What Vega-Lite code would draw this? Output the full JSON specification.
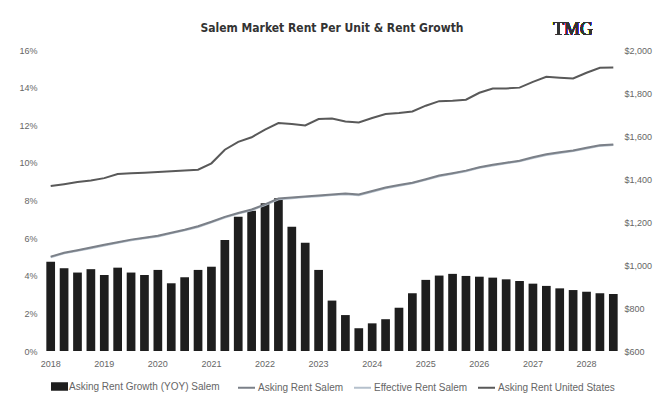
{
  "$schema": "https://vega.github.io/schema/vega-lite/v6.json",
  "width": 574,
  "height": 301,
  "autosize": {"type": "none"},
  "padding": {"left": 45, "top": 50, "right": 36, "bottom": 48},
  "background": "white",
  "config": {
    "view": {"stroke": null},
    "font": "Liberation Sans",
    "axis": {"labelColor": "#666666", "labelFontSize": 9, "domain": false, "ticks": false, "grid": false, "title": null}
  },
  "title": {"text": "Salem Market Rent Per Unit & Rent Growth", "font": "DejaVu Sans Condensed", "fontSize": 12, "fontWeight": "bold", "color": "#333333", "anchor": "middle", "offset": -14},
  "data": {"values": [
    {"q": "2018Q1", "growth": 4.75, "asking": 1039, "effective": 1036, "us": 1367},
    {"q": "2018Q2", "growth": 4.40, "asking": 1057, "effective": 1054, "us": 1376},
    {"q": "2018Q3", "growth": 4.17, "asking": 1069, "effective": 1066, "us": 1386},
    {"q": "2018Q4", "growth": 4.35, "asking": 1081, "effective": 1078, "us": 1393},
    {"q": "2019Q1", "growth": 4.04, "asking": 1094, "effective": 1091, "us": 1404},
    {"q": "2019Q2", "growth": 4.43, "asking": 1106, "effective": 1103, "us": 1423},
    {"q": "2019Q3", "growth": 4.17, "asking": 1118, "effective": 1115, "us": 1427},
    {"q": "2019Q4", "growth": 4.04, "asking": 1127, "effective": 1124, "us": 1429},
    {"q": "2020Q1", "growth": 4.31, "asking": 1136, "effective": 1133, "us": 1432},
    {"q": "2020Q2", "growth": 3.60, "asking": 1150, "effective": 1147, "us": 1436},
    {"q": "2020Q3", "growth": 3.92, "asking": 1164, "effective": 1161, "us": 1439},
    {"q": "2020Q4", "growth": 4.31, "asking": 1180, "effective": 1177, "us": 1443},
    {"q": "2021Q1", "growth": 4.48, "asking": 1201, "effective": 1198, "us": 1473},
    {"q": "2021Q2", "growth": 5.90, "asking": 1224, "effective": 1221, "us": 1536},
    {"q": "2021Q3", "growth": 7.14, "asking": 1242, "effective": 1239, "us": 1573},
    {"q": "2021Q4", "growth": 7.46, "asking": 1258, "effective": 1255, "us": 1594},
    {"q": "2022Q1", "growth": 7.86, "asking": 1282, "effective": 1279, "us": 1630},
    {"q": "2022Q2", "growth": 8.12, "asking": 1309, "effective": 1306, "us": 1660},
    {"q": "2022Q3", "growth": 6.61, "asking": 1314, "effective": 1311, "us": 1656},
    {"q": "2022Q4", "growth": 5.76, "asking": 1319, "effective": 1316, "us": 1649},
    {"q": "2023Q1", "growth": 4.31, "asking": 1323, "effective": 1320, "us": 1679},
    {"q": "2023Q2", "growth": 2.68, "asking": 1328, "effective": 1325, "us": 1681},
    {"q": "2023Q3", "growth": 1.91, "asking": 1332, "effective": 1329, "us": 1667},
    {"q": "2023Q4", "growth": 1.21, "asking": 1328, "effective": 1325, "us": 1663},
    {"q": "2024Q1", "growth": 1.47, "asking": 1344, "effective": 1341, "us": 1684},
    {"q": "2024Q2", "growth": 1.69, "asking": 1360, "effective": 1357, "us": 1702},
    {"q": "2024Q3", "growth": 2.30, "asking": 1372, "effective": 1369, "us": 1707},
    {"q": "2024Q4", "growth": 3.07, "asking": 1383, "effective": 1380, "us": 1714},
    {"q": "2025Q1", "growth": 3.78, "asking": 1399, "effective": 1396, "us": 1741},
    {"q": "2025Q2", "growth": 4.01, "asking": 1416, "effective": 1413, "us": 1762},
    {"q": "2025Q3", "growth": 4.10, "asking": 1427, "effective": 1424, "us": 1764},
    {"q": "2025Q4", "growth": 3.99, "asking": 1439, "effective": 1436, "us": 1769},
    {"q": "2026Q1", "growth": 3.95, "asking": 1455, "effective": 1452, "us": 1801},
    {"q": "2026Q2", "growth": 3.90, "asking": 1466, "effective": 1463, "us": 1821},
    {"q": "2026Q3", "growth": 3.81, "asking": 1476, "effective": 1473, "us": 1821},
    {"q": "2026Q4", "growth": 3.72, "asking": 1485, "effective": 1482, "us": 1825},
    {"q": "2027Q1", "growth": 3.58, "asking": 1501, "effective": 1498, "us": 1852},
    {"q": "2027Q2", "growth": 3.46, "asking": 1515, "effective": 1512, "us": 1875},
    {"q": "2027Q3", "growth": 3.33, "asking": 1524, "effective": 1521, "us": 1871},
    {"q": "2027Q4", "growth": 3.24, "asking": 1533, "effective": 1530, "us": 1868},
    {"q": "2028Q1", "growth": 3.15, "asking": 1545, "effective": 1542, "us": 1894},
    {"q": "2028Q2", "growth": 3.07, "asking": 1557, "effective": 1554, "us": 1917},
    {"q": "2028Q3", "growth": 3.03, "asking": 1561, "effective": 1558, "us": 1919}
  ]},
  "layer": [
    {
      "mark": {"type": "bar"},
      "encoding": {
        "x": {"field": "q", "type": "ordinal", "sort": null,
          "scale": {"paddingInner": 0.35, "paddingOuter": 0.1},
          "axis": {"labelAngle": 0, "labelPadding": 8,
            "values": ["2018Q1","2019Q1","2020Q1","2021Q1","2022Q1","2023Q1","2024Q1","2025Q1","2026Q1","2027Q1","2028Q1"],
            "labelExpr": "substring(datum.label, 0, 4)"}},
        "y": {"field": "growth", "type": "quantitative",
          "scale": {"domain": [0, 16], "nice": false},
          "axis": {"orient": "left", "values": [0,2,4,6,8,10,12,14,16], "labelExpr": "datum.value + '%'", "labelPadding": 8}},
        "fill": {"datum": "Asking Rent Growth (YOY) Salem", "type": "nominal",
          "scale": {"range": ["#1e1e1e"]},
          "legend": {"orient": "none", "legendX": 6, "legendY": 328, "direction": "horizontal", "title": null,
            "symbolType": "M-1,-0.5H1V0.5H-1Z", "symbolSize": 289, "symbolStrokeWidth": 0,
            "labelFontSize": 10, "labelColor": "#666666", "labelOffset": 1}}
      }
    },
    {
      "transform": [{"fold": ["effective", "asking", "us"], "as": ["series", "value"]}],
      "mark": {"type": "line", "strokeWidth": 2},
      "encoding": {
        "x": {"field": "q", "type": "ordinal", "sort": null},
        "y": {"field": "value", "type": "quantitative",
          "scale": {"domain": [600, 2000], "nice": false},
          "axis": {"orient": "right", "values": [600,800,1000,1200,1400,1600,1800,2000], "format": "$,.0f", "labelPadding": 5}},
        "stroke": {"field": "series", "type": "nominal",
          "scale": {"domain": ["asking", "effective", "us"], "range": ["#7b8088", "#b5c0cc", "#595959"]},
          "legend": {"orient": "none", "legendX": 192, "legendY": 328, "direction": "horizontal", "title": null,
            "symbolType": "stroke", "symbolSize": 289, "symbolStrokeWidth": 2,
            "labelFontSize": 10, "labelColor": "#666666", "labelOffset": 2, "columnPadding": 6,
            "labelExpr": "datum.label == 'asking' ? 'Asking Rent Salem' : datum.label == 'effective' ? 'Effective Rent Salem' : 'Asking Rent United States'"}}
      }
    },
    {
      "mark": {"type": "text", "font": "Liberation Serif", "fontSize": 18, "color": "#333333", "align": "center", "baseline": "middle"},
      "encoding": {
        "x": {"datum": "2027Q4", "type": "ordinal"},
        "y": {"datum": 2093, "type": "quantitative", "scale": {"domain": [600, 2000], "nice": false}, "axis": null},
        "text": {"value": "TMG"}
      }
    }
  ],
  "resolve": {"scale": {"y": "independent"}}
}
